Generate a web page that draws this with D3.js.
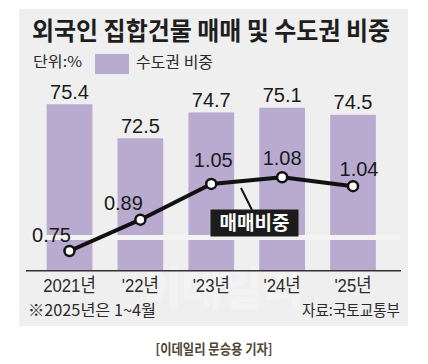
<!DOCTYPE html>
<html><head><meta charset="utf-8">
<script src="https://cdn.jsdelivr.net/npm/d3@7"></script>
<style>
html,body{margin:0;padding:0;background:#fff;}
svg{display:block;}
</style></head>
<body>
<script>
// ---- data ----
const categories = ["2021년", "'22년", "'23년", "'24년", "'25년"];
const capitalShare = [75.4, 72.5, 74.7, 75.1, 74.5];   // 수도권 비중 (bars)
const tradeShare = [0.75, 0.89, 1.05, 1.08, 1.04];      // 매매비중 (line)
const titleText = "외국인 집합건물 매매 및 수도권 비중";
const unitText = "단위:%";
const legendBar = "수도권 비중";
const legendLine = "매매비중";
const footnote = "※2025년은 1~4월";
const sourceText = "자료:국토교통부";
const creditText = "[이데일리 문승용 기자]";

// ---- layout / style ----
const W = 428, H = 364;
const barColor = "#b9aad0";
const bg = "#efefef";
const numFont = "'Liberation Sans', Arial, sans-serif";
const korFont = "'Noto Sans CJK KR', 'Noto Sans', sans-serif";
// label offsets for line values [dx, dy] (style only)
const lineLabelOffset = [[-18, -9], [-17, -10], [2, -17], [0, -12], [6, -10]];

const svg = d3.select("body").append("svg").attr("width", W).attr("height", H);

svg.append("rect").attr("x", 19).attr("y", 9).attr("width", 389).attr("height", 317).attr("fill", bg);

// watermark
svg.append("text").attr("x", 222).attr("y", 305).attr("text-anchor", "middle")
  .attr("font-family", korFont).attr("font-weight", 900).attr("font-size", 44)
  .attr("fill", "#ffffff").attr("opacity", 0.3).text("이데일리");

const baseY = 270.7;
const x = d3.scaleBand().domain(categories).range([34.05, 388.45])
  .paddingInner(0.355).paddingOuter(0.1775);
const yBar = d3.scaleLinear().domain([61.2, 76]).range([baseY, baseY - 14.8 * 11.72]);
const yLine = d3.scaleLinear().domain([0.75, 1.08]).range([251, 251 - 0.33 * 223.6]);

// bars
svg.append("g").selectAll("rect").data(categories).join("rect")
  .attr("x", d => x(d)).attr("width", x.bandwidth())
  .attr("y", (d, i) => yBar(capitalShare[i]))
  .attr("height", (d, i) => baseY - yBar(capitalShare[i]))
  .attr("fill", barColor);

// axis break band
svg.append("rect").attr("x", 30).attr("y", 235).attr("width", 370).attr("height", 5).attr("fill", "#f3f3f3");

// bar labels
svg.append("g").selectAll("text").data(categories).join("text")
  .attr("x", d => x(d) + x.bandwidth() / 2)
  .attr("y", (d, i) => yBar(capitalShare[i]) - 5.5)
  .attr("text-anchor", "middle").attr("font-family", numFont).attr("font-size", 20)
  .attr("fill", "#1a1a1a").text((d, i) => capitalShare[i].toFixed(1));

// axis baseline
svg.append("line").attr("x1", 26).attr("x2", 401).attr("y1", baseY).attr("y2", baseY)
  .attr("stroke", "#333").attr("stroke-width", 1.6);

// x axis labels
const ax = svg.append("g").attr("transform", `translate(0,${baseY})`)
  .call(d3.axisBottom(x).tickSize(0).tickPadding(8));
ax.select(".domain").remove();
ax.selectAll("text").attr("font-family", numFont + ", " + korFont).attr("font-size", 19)
  .attr("fill", "#2a2a2a").attr("dy", "0.71em")
  .each(function() {
    const len = this.getComputedTextLength();
    d3.select(this).attr("textLength", len * 0.88).attr("lengthAdjust", "spacingAndGlyphs");
  });

// pointer to line
svg.append("line").attr("x1", 241).attr("y1", 188).attr("x2", 252).attr("y2", 210)
  .attr("stroke", "#111").attr("stroke-width", 2);

// line
const line = d3.line().x((d, i) => x(categories[i]) + x.bandwidth() / 2).y(d => yLine(d));
svg.append("path").datum(tradeShare).attr("d", line).attr("fill", "none")
  .attr("stroke", "#111").attr("stroke-width", 4).attr("stroke-linejoin", "round");
svg.append("g").selectAll("circle").data(tradeShare).join("circle")
  .attr("cx", (d, i) => x(categories[i]) + x.bandwidth() / 2).attr("cy", d => yLine(d))
  .attr("r", 5).attr("fill", "#fff").attr("stroke", "#111").attr("stroke-width", 2.5);

// line labels
svg.append("g").selectAll("text").data(tradeShare).join("text")
  .attr("x", (d, i) => x(categories[i]) + x.bandwidth() / 2 + lineLabelOffset[i][0])
  .attr("y", (d, i) => yLine(d) + lineLabelOffset[i][1])
  .attr("text-anchor", "middle").attr("font-family", numFont).attr("font-size", 20)
  .attr("fill", "#1a1a1a").text(d => d.toFixed(2));

// line label box
svg.append("rect").attr("x", 210.5).attr("y", 209.5).attr("width", 88).attr("height", 27).attr("fill", "#1c1c1c");
svg.append("text").attr("x", 254.5).attr("y", 230).attr("text-anchor", "middle")
  .attr("font-family", korFont).attr("font-weight", 700).attr("font-size", 19)
  .attr("fill", "#fff").attr("textLength", 70).attr("lengthAdjust", "spacingAndGlyphs").text(legendLine);

// title
svg.append("text").attr("x", 32).attr("y", 40).attr("font-family", korFont).attr("font-weight", 700)
  .attr("font-size", 25).attr("fill", "#1e1e1e").attr("textLength", 358)
  .attr("lengthAdjust", "spacingAndGlyphs").text(titleText);

// legend row
svg.append("text").attr("x", 33).attr("y", 67).attr("font-family", korFont).attr("font-size", 15)
  .attr("fill", "#2a2a2a").attr("textLength", 49).attr("lengthAdjust", "spacingAndGlyphs").text(unitText);
svg.append("rect").attr("x", 95).attr("y", 54).attr("width", 34).attr("height", 20).attr("fill", barColor);
svg.append("text").attr("x", 136).attr("y", 68).attr("font-family", korFont).attr("font-size", 16)
  .attr("fill", "#2a2a2a").attr("textLength", 77).attr("lengthAdjust", "spacingAndGlyphs").text(legendBar);

// footnote / source
svg.append("text").attr("x", 28).attr("y", 315.5).attr("font-family", korFont).attr("font-size", 16)
  .attr("fill", "#2a2a2a").attr("textLength", 128).attr("lengthAdjust", "spacingAndGlyphs").text(footnote);
svg.append("text").attr("x", 400).attr("y", 315.5).attr("text-anchor", "end").attr("font-family", korFont)
  .attr("font-size", 16).attr("fill", "#2a2a2a").attr("textLength", 98).attr("lengthAdjust", "spacingAndGlyphs").text(sourceText);

// credit
svg.append("text").attr("x", 214).attr("y", 354).attr("text-anchor", "middle").attr("font-family", korFont)
  .attr("font-weight", 700).attr("font-size", 14).attr("fill", "#4e4636")
  .attr("textLength", 117).attr("lengthAdjust", "spacingAndGlyphs").text(creditText);
</script>
</body></html>
